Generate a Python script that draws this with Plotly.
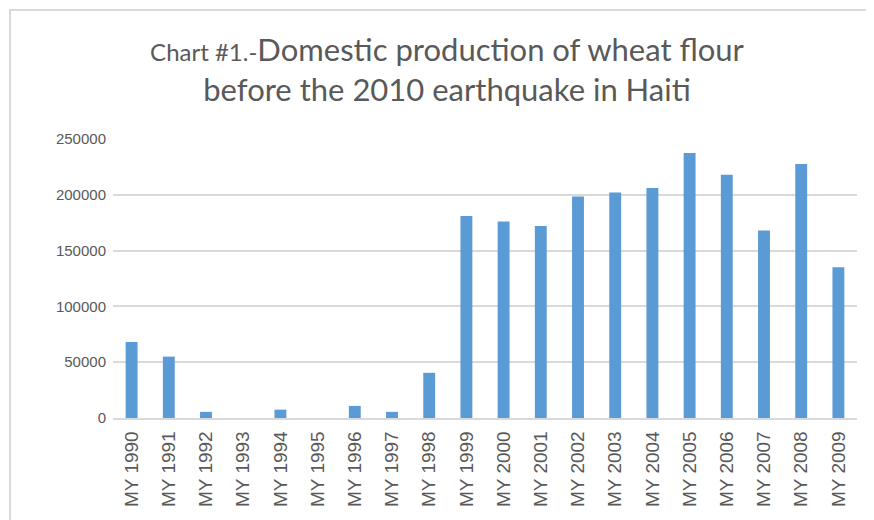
import plotly.graph_objects as go

categories = ["MY 1990", "MY 1991", "MY 1992", "MY 1993", "MY 1994", "MY 1995", "MY 1996",
              "MY 1997", "MY 1998", "MY 1999", "MY 2000", "MY 2001", "MY 2002", "MY 2003",
              "MY 2004", "MY 2005", "MY 2006", "MY 2007", "MY 2008", "MY 2009"]
production = [68000, 55000, 5500, 0, 7500, 0, 10800, 5500, 40500, 181000,
              176000, 172000, 198500, 202000, 206000, 237500, 218000, 168000, 227500, 135000]
y_ticks = [0, 50000, 100000, 150000, 200000, 250000]

# the page body adds an 8px offset; compensate in the margins
L, T, PW, PH = 105, 131, 744, 279
W, H = 874, 520

fig = go.Figure()
fig.add_trace(go.Bar(
    x=categories, y=production,
    marker=dict(color="#5B9BD5", line=dict(width=0)),
    width=0.32,
))

fig.update_layout(
    width=W, height=H,
    margin=dict(l=L, r=W - L - PW, t=T, b=H - T - PH, autoexpand=False),
    paper_bgcolor="white", plot_bgcolor="white",
    showlegend=False,
    title=dict(
        text="<span style='font-size:24px'>Chart #1.-</span>Domestic production of wheat flour<br>before the 2010 earthquake in Haiti",
        x=439 / W, xanchor="center", xref="container",
        y=1 - 53 / H, yanchor="top", yref="container",
        font=dict(family="Lato, 'Open Sans', sans-serif", size=31, color="#595959"),
    ),
    font=dict(family="Liberation Sans, Arial, sans-serif", color="#595959"),
)

fig.update_xaxes(
    tickangle=-90, automargin=False,
    tickfont=dict(size=19, color="#595959"),
    showgrid=False, showline=True, linecolor="#d9d9d9", linewidth=1.5,
    ticks="", ticklabelstandoff=4,
)
fig.update_yaxes(
    range=[0, 250000], tickvals=y_ticks, ticktext=[str(v) for v in y_ticks],
    automargin=False,
    tickfont=dict(size=15, color="#595959"),
    showgrid=True, gridcolor="#d9d9d9", gridwidth=1.5,
    zeroline=False, showline=False, ticks="", ticklabelstandoff=6,
)

fig.add_shape(type="rect", xref="paper", yref="paper",
              x0=(2 - L) / PW, x1=(W + 20 - L) / PW,
              y0=-(H - T - PH + 20) / PH, y1=1 + (T - 2) / PH,
              line=dict(color="#d9d9d9", width=2), fillcolor="rgba(0,0,0,0)", layer="below")

fig.write_html("out.html")
